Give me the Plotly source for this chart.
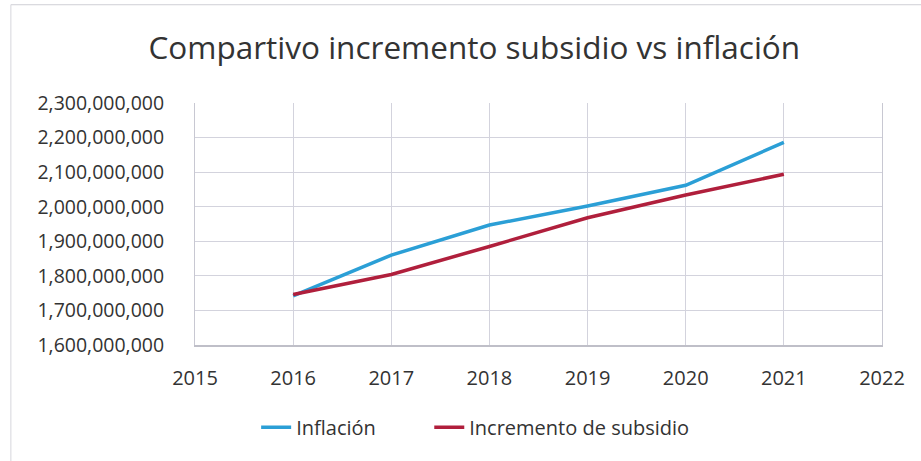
import plotly.graph_objects as go

# Annual values (pesos)
years = [2016, 2017, 2018, 2019, 2020, 2021]
inflacion = [1742000000, 1860000000, 1947000000, 2002000000, 2062000000, 2186000000]
incremento_subsidio = [1746000000, 1804000000, 1885000000, 1968000000, 2034000000, 2094000000]

y_ticks = list(range(1600000000, 2300000001, 100000000))
x_ticks = list(range(2015, 2023))

FONT = "Open Sans"
TEXT = "#333333"
GRID = "#d3d3dd"

fig = go.Figure()
fig.add_trace(go.Scatter(
    x=years, y=inflacion, name="Inflación", mode="lines",
    line=dict(color="#2b9fd6", width=3.5), legend="legend",
))
fig.add_trace(go.Scatter(
    x=years, y=incremento_subsidio, name="Incremento de subsidio", mode="lines",
    line=dict(color="#b01f3c", width=3.5), legend="legend2",
))

legend_style = dict(
    orientation="h", xanchor="left", y=-0.34, yanchor="middle",
    font=dict(family=FONT, size=20, color=TEXT),
)

fig.update_layout(
    width=921, height=461,
    margin=dict(l=195, r=39, t=103, b=116),
    paper_bgcolor="white", plot_bgcolor="white",
    font=dict(family=FONT, color=TEXT, size=19),
    title=dict(
        text="Compartivo incremento subsidio vs inflación",
        x=0.515, xanchor="center", y=0.895, yanchor="middle",
        font=dict(family=FONT, size=31.5, color=TEXT),
    ),
    xaxis=dict(
        range=[2015, 2022], tickvals=x_ticks, ticktext=[str(v) for v in x_ticks],
        showgrid=True, gridcolor=GRID, gridwidth=1,
        showline=True, linecolor="#bfbfc8", linewidth=1.5, mirror=False,
        zeroline=False, ticks="", ticklabelstandoff=14,
        tickfont=dict(size=20),
    ),
    yaxis=dict(
        range=[1600000000, 2300000000], tickvals=y_ticks,
        tickformat=",d",
        showgrid=True, gridcolor=GRID, gridwidth=1,
        showline=True, linecolor="#c8c8d2", linewidth=1, mirror=True,
        zeroline=False, ticks="", ticklabelstandoff=26,
        tickfont=dict(size=19.5),
    ),
    legend=dict(x=0.089, **legend_style),
    legend2=dict(x=0.341, **legend_style),
    showlegend=True,
    shapes=[
        dict(type="line", xref="paper", yref="paper", x0=-0.268, x1=1.06,
             y0=1.406, y1=1.406, line=dict(color="#cfcfd6", width=1)),
        dict(type="line", xref="paper", yref="paper", x0=-0.268, x1=-0.268,
             y0=1.406, y1=-0.48, line=dict(color="#d6d6dc", width=1)),
    ],
)

fig.write_html("out.html")
